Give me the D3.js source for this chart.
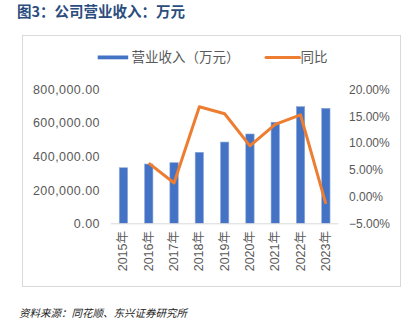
<!DOCTYPE html>
<html><head><meta charset="utf-8">
<script src="https://cdn.jsdelivr.net/npm/d3@7"></script>
<style>body{margin:0;background:#fff}svg{display:block}</style>
</head><body><svg id="c" width="416" height="324"></svg>
<script>
const years = ["2015年","2016年","2017年","2018年","2019年","2020年","2021年","2022年","2023年"];
const revenue = [331000, 353000, 361000, 423000, 484000, 532000, 602000, 695000, 685000];
const growth = [null, 6.2, 2.5, 16.7, 15.4, 9.4, 13.4, 15.2, -1.4];
const leftTicks = [0, 200000, 400000, 600000, 800000];
const rightTicks = [-5, 0, 5, 10, 15, 20];
const seriesNames = ["营业收入（万元）", "同比"];

const svg = d3.select("#c");
const font = "Arial, 'Liberation Sans', 'Noto Sans CJK SC', sans-serif";
const blue = "#4472C4", orange = "#ED7D31", grey = "#595959";

svg.append("text").attr("x", 17).attr("y", 17).attr("font-family", "'Noto Sans CJK SC', sans-serif")
  .attr("font-size", 14.5).attr("font-weight", "bold").attr("fill", "#2B4C7E").text("图3：公司营业收入：万元");

svg.append("rect").attr("x", 22.5).attr("y", 35.5).attr("width", 378).attr("height", 251)
  .attr("fill", "none").attr("stroke", "#D9D9D9");

const x = d3.scaleBand().domain(years).range([110.8, 338.5]).paddingInner(0.67).paddingOuter(0.335);
const yL = d3.scaleLinear().domain([0, 800000]).range([223.3, 89]);
const yR = d3.scaleLinear().domain([-5, 20]).range([223.3, 89]);

// bars
svg.append("g").selectAll("rect").data(revenue).join("rect")
  .attr("x", (d, i) => x(years[i])).attr("width", x.bandwidth())
  .attr("y", d => yL(d)).attr("height", d => yL(0) - yL(d))
  .attr("fill", blue).attr("stroke", "#8FAADC").attr("stroke-width", 0.6);

// baseline
svg.append("line").attr("x1", 110.8).attr("x2", 338.5).attr("y1", 223.8).attr("y2", 223.8)
  .attr("stroke", "#D9D9D9").attr("stroke-width", 1);

// line
const pts = growth.map((g, i) => [x(years[i]) + x.bandwidth() / 2, g]).filter(p => p[1] !== null);
svg.append("path").datum(pts)
  .attr("d", d3.line().x(p => p[0]).y(p => yR(p[1])))
  .attr("fill", "none").attr("stroke", orange).attr("stroke-width", 3).attr("stroke-linejoin", "round");

// left axis
const fmtL = d3.format(",.2f");
const gl = svg.append("g").attr("transform", "translate(104,0)")
  .call(d3.axisLeft(yL).tickValues(leftTicks).tickFormat(fmtL).tickSize(0).tickPadding(4));
gl.select(".domain").remove();
gl.selectAll("text").attr("font-family", font).attr("font-size", 12.5).attr("fill", grey)
  .attr("letter-spacing", "0.45px").attr("dy", "0.35em");

// right axis
const gr = svg.append("g").attr("transform", "translate(345,0)")
  .call(d3.axisRight(yR).tickValues(rightTicks).tickFormat(d => d3.format(".2f")(d) + "%").tickSize(0).tickPadding(4));
gr.select(".domain").remove();
gr.selectAll("text").attr("font-family", font).attr("font-size", 12).attr("fill", grey).attr("dy", "0.35em");

// x axis labels
const gx = svg.append("g").attr("transform", "translate(0,224)")
  .call(d3.axisBottom(x).tickSize(0).tickPadding(0));
gx.select(".domain").remove();
gx.selectAll("text").attr("font-family", font).attr("font-size", 12.5).attr("fill", grey)
  .attr("text-anchor", "end").attr("dy", null)
  .attr("transform", "translate(4,7) rotate(-90)");

// legend
const lg = svg.append("g");
lg.append("rect").attr("x", 97.7).attr("y", 55.5).attr("width", 30.5).attr("height", 3.8).attr("fill", blue);
lg.append("text").attr("x", 131.5).attr("y", 57.5).attr("dy", "0.36em").attr("font-family", "'Noto Sans CJK SC', sans-serif")
  .attr("font-size", 13.5).attr("fill", grey).text(seriesNames[0]);
lg.append("line").attr("x1", 266).attr("x2", 299.5).attr("y1", 57.5).attr("y2", 57.5)
  .attr("stroke", orange).attr("stroke-width", 3).attr("stroke-linecap", "round");
lg.append("text").attr("x", 300.5).attr("y", 57.5).attr("dy", "0.36em").attr("font-family", "'Noto Sans CJK SC', sans-serif")
  .attr("font-size", 13.5).attr("fill", grey).text(seriesNames[1]);

svg.append("text").attr("x", 19).attr("y", 316.5).attr("font-family", "'Noto Sans CJK SC', serif")
  .attr("font-size", 10.5).attr("font-style", "italic").attr("fill", "#222").text("资料来源：同花顺、东兴证券研究所");
</script></body></html>
